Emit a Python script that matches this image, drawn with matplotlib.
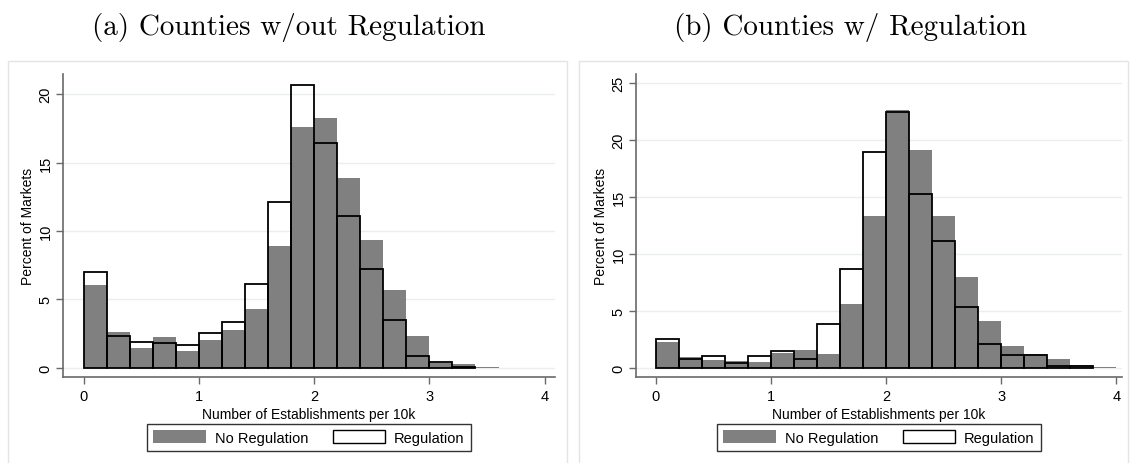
import matplotlib
matplotlib.use('Agg')
import matplotlib.pyplot as plt
import matplotlib.patches as mpatches
import numpy as np

plt.rcParams['font.family'] = ['Liberation Sans', 'DejaVu Sans']

# ---------------------------------------------------------------------------
# Data: percent of markets per 0.2-wide bin, starting at 0
# ---------------------------------------------------------------------------
BIN_WIDTH = 0.2

a_no_reg = [6.05, 2.62, 1.45, 2.28, 1.23, 2.01, 2.77, 4.31, 8.93, 17.6,
            18.22, 13.89, 9.33, 5.71, 2.33, 0.35, 0.29, 0.05]
a_reg = [7.03, 2.33, 1.89, 1.83, 1.67, 2.57, 3.36, 6.09, 12.1, 20.7,
         16.43, 11.07, 7.2, 3.5, 0.84, 0.42, 0.06, 0.0]

b_no_reg = [2.25, 0.97, 0.68, 0.59, 0.5, 1.26, 1.53, 1.23, 5.63, 13.32,
            22.62, 19.14, 13.31, 7.95, 4.08, 1.93, 1.2, 0.79, 0.2, 0.08]
b_reg = [2.49, 0.78, 1.06, 0.44, 1.06, 1.47, 0.76, 3.87, 8.71, 18.93,
         22.5, 15.27, 11.14, 5.3, 2.04, 1.15, 1.12, 0.17, 0.15, 0.0]

titles = ['(a) Counties w/out Regulation', '(b) Counties w/ Regulation']
x_ticks = [0, 1, 2, 3, 4]
a_y_ticks = [0, 5, 10, 15, 20]
b_y_ticks = [0, 5, 10, 15, 20, 25]

GRAY = '#808080'
AXIS = '#6a6a6a'
GRID = '#e9efef'
BORDER = '#e4e4e4'

W, H = 1133, 464
fig = plt.figure(figsize=(W / 100, H / 100), dpi=100)
fig.patch.set_facecolor('white')


def px_axes(left, top, right, bottom):
    return fig.add_axes([left / W, 1 - bottom / H, (right - left) / W, (bottom - top) / H])


def draw_panel(ax, no_reg, reg, yticks, xlim, ylim):
    no_reg = np.asarray(no_reg)
    reg = np.asarray(reg)
    left_no = np.arange(len(no_reg)) * BIN_WIDTH
    left_reg = np.arange(len(reg)) * BIN_WIDTH
    ax.bar(left_no, no_reg, width=BIN_WIDTH, align='edge', color=GRAY,
           edgecolor='none', zorder=2)
    keep = reg > 0
    ax.bar(left_reg[keep], reg[keep], width=BIN_WIDTH, align='edge',
           facecolor='none', edgecolor='black', linewidth=1.3, zorder=3)

    ax.set_xlim(*xlim)
    ax.set_ylim(*ylim)
    ax.set_xticks(x_ticks)
    ax.set_yticks(yticks)
    ax.set_yticklabels([str(t) for t in yticks], rotation=90, va='center')
    ax.yaxis.grid(True, color=GRID, linewidth=1.0, zorder=0)
    ax.set_axisbelow(True)
    for s in ('top', 'right'):
        ax.spines[s].set_visible(False)
    for s in ('left', 'bottom'):
        ax.spines[s].set_color(AXIS)
        ax.spines[s].set_linewidth(1.2)
    ax.tick_params(axis='both', labelsize=10.5, length=5, width=1.0, color=AXIS)
    ax.tick_params(axis='x', pad=3.5)
    ax.tick_params(axis='y', pad=2.5)
    ax.set_xlabel('Number of Establishments per 10k', fontsize=10, labelpad=3)
    ax.set_ylabel('Percent of Markets', fontsize=10, labelpad=2.5)

    handles = [mpatches.Patch(facecolor=GRAY, edgecolor='none', label='No Regulation'),
               mpatches.Patch(facecolor='white', edgecolor='black', linewidth=1.0,
                              label='Regulation')]
    leg = ax.legend(handles=handles, loc='upper center', bbox_to_anchor=(0.5, -0.155),
                    ncol=2, frameon=True, fancybox=False, fontsize=10.5,
                    handlelength=3.6, handleheight=1.0, handletextpad=0.6,
                    columnspacing=1.7, borderpad=0.42, borderaxespad=0)
    leg.get_frame().set_edgecolor('black')
    leg.get_frame().set_linewidth(1.0)


# panel borders
for x0, x1 in ((8, 567), (579, 1128)):
    fig.patches.append(mpatches.Rectangle((x0 / W, -0.05), (x1 - x0) / W,
                                          1 - 62 / H + 0.05, transform=fig.transFigure,
                                          facecolor='none', edgecolor=BORDER,
                                          linewidth=1.0, zorder=0))

ax_a = px_axes(63, 75, 555, 378)
draw_panel(ax_a, a_no_reg, a_reg, a_y_ticks, (-0.18, 4.09), (-0.68, 21.47))

ax_b = px_axes(636, 75, 1122, 378)
draw_panel(ax_b, b_no_reg, b_reg, b_y_ticks, (-0.17, 4.05), (-0.82, 25.8))

fig.text(289 / W, 1 - 27 / H, titles[0], family='cmr10', fontsize=21,
         ha='center', va='center')
fig.text(850 / W, 1 - 27 / H, titles[1], family='cmr10', fontsize=21,
         ha='center', va='center')

fig.savefig('out.png', dpi=100, facecolor='white')
